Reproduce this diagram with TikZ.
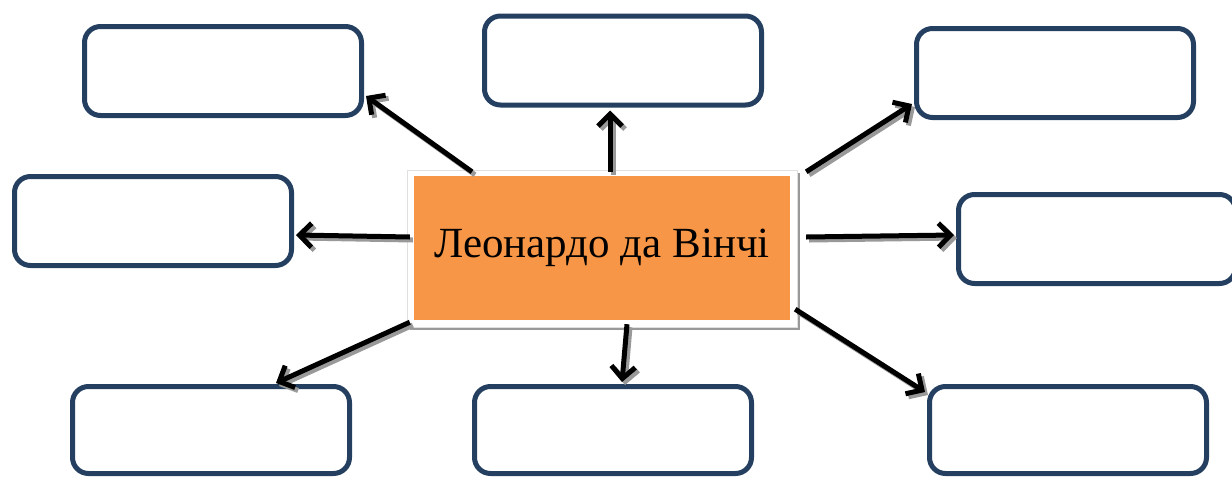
\documentclass[tikz,border=0pt]{standalone}
\usepackage{fontspec}
\setmainfont{Liberation Serif}
\usetikzlibrary{arrows.meta,calc}
\definecolor{navy}{HTML}{243F60}
\definecolor{orng}{HTML}{F79646}
\tikzset{
  box/.style={draw=navy, line width=5pt, rounded corners=16pt, fill=white,
    minimum width=277pt, minimum height=89pt, inner sep=0pt},
  bbox/.style={box, minimum height=87pt},
  arr/.style={line width=5pt, -{Straight Barb[length=12pt,width=24pt]}},
  arrshadow/.style={arr, draw=black!40},
}
\newcommand\myarrows[1]{%
  \draw[#1] ($(c.north)+(-130,-4)$) -- ($(tl.east)+(2,25)$);
  \draw[#1] ($(c.north)+(8,-4)$) -- ($(tc.south)+(-13,3)$);
  \draw[#1] ($(c.north east)+(16,-4)$) -- ($(tr.west)+(-2,31)$);
  \draw[#1] ($(c.west)+(-4,-11)$) -- ($(ml.east)+(2,14)$);
  \draw[#1] ($(c.east)+(16,-11)$) -- ($(mr.west)+(-2,-4)$);
  \draw[#1] ($(c.south west)+(-4,2)$) -- ($(bl.north)+(65,-1)$);
  \draw[#1] ($(c.south)+(25,4)$) -- ($(bc.north)+(9,-2)$);
  \draw[#1] ($(c.south east)+(5,-11)$) -- ($(br.north west)+(-2,8)$);
}
\begin{document}
\begin{tikzpicture}[x=1pt,y=-1pt]
\useasboundingbox (0,0) rectangle (1232,477);
\clip (0,0) rectangle (1232,477);
% boxes
\node[box] (tl) at (223,71) {};
\node[box] (tc) at (623,60.5) {};
\node[box] (tr) at (1055,73) {};
\node[box] (ml) at (153,221) {};
\node[box] (mr) at (1097,239) {};
\node[bbox] (bl) at (211,430) {};
\node[bbox] (bc) at (613,430) {};
\node[bbox] (br) at (1068,430) {};
% center frame
\fill[black!40] (410,173) rectangle (800,330);
\draw[fill=white, draw=black!12, line width=0.8pt] (407,170) rectangle (797,327);
\node[fill=orng, minimum width=376pt, minimum height=144pt, inner sep=0pt,
  font=\fontsize{43}{50}\selectfont] (c) at (602,248) {Леонардо да Вінчі};
% arrows with shadow
\begin{scope}[transform canvas={xshift=3pt,yshift=-3pt}]
  \myarrows{arrshadow}
\end{scope}
\myarrows{arr}
\end{tikzpicture}
\end{document}
